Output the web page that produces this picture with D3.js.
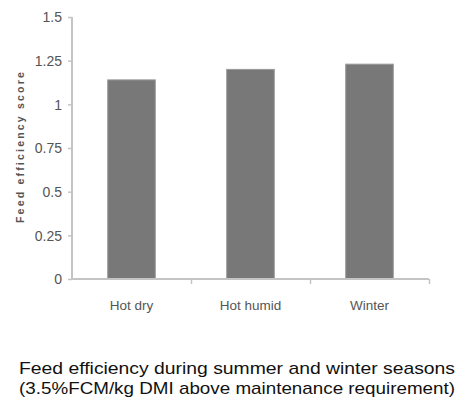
<!DOCTYPE html>
<html><head><meta charset="utf-8">
<script src="https://cdn.jsdelivr.net/npm/d3@7"></script>
<style>body{margin:0;background:#fff}</style>
</head><body>
<svg id="c" width="466" height="403"></svg>
<script>
const categories = ["Hot dry", "Hot humid", "Winter"];
const values = [1.14, 1.2, 1.23];
const yTicks = [0, 0.25, 0.5, 0.75, 1, 1.25, 1.5];
const yTickLabels = ["0", "0.25", "0.5", "0.75", "1", "1.25", "1.5"];
const yLabel = "Feed efficiency score";
const titleLines = ["Feed efficiency during summer and winter seasons", "(3.5%FCM/kg DMI above maintenance requirement)"];

const svg = d3.select("#c");
const x0 = 72, x1 = 429, yTop = 17, yBot = 279;
const x = d3.scaleBand().domain(categories).range([x0, x1]).paddingInner(0.6).paddingOuter(0.3);
const y = d3.scaleLinear().domain([0, 1.5]).range([yBot, yTop]);
const axisCol = "#c4c4c4";
const font = "'Liberation Sans', Arial, sans-serif";

// bars
svg.selectAll("rect.bar").data(values).enter().append("rect")
  .attr("x", (d,i) => x(categories[i]))
  .attr("width", x.bandwidth())
  .attr("y", d => y(d))
  .attr("height", d => yBot - y(d))
  .attr("fill", "#787878")
  .attr("stroke", "#9a9a9a")
  .attr("stroke-width", 1);

// y axis
const ya = svg.append("g").attr("transform", `translate(${x0},0)`)
  .call(d3.axisLeft(y).tickValues(yTicks).tickFormat((d,i)=>yTickLabels[i]).tickSize(4).tickPadding(6));
ya.select(".domain").attr("stroke", axisCol).attr("stroke-width", 2).attr("d", `M0,${yTop}V${yBot}`);
ya.selectAll(".tick line").attr("stroke", axisCol).attr("stroke-width", 1.5);
ya.selectAll(".tick text").attr("fill", "#555").style("font-family", font).style("font-size", "14px").attr("dy", "0.35em");

// x axis
const xb = d3.scaleLinear().domain([0, 3]).range([x0, x1]);
const xa = svg.append("g").attr("transform", `translate(0,${yBot})`)
  .call(d3.axisBottom(xb).tickValues([1,2,3]).tickFormat("").tickSize(5));
xa.select(".domain").attr("stroke", axisCol).attr("stroke-width", 2).attr("d", `M${x0},0H${x1}`);
xa.selectAll(".tick line").attr("stroke", axisCol).attr("stroke-width", 1.5);

svg.selectAll("text.xl").data(categories).enter().append("text")
  .attr("x", d => x(d) + x.bandwidth()/2)
  .attr("y", 310)
  .attr("text-anchor", "middle")
  .attr("fill", "#555")
  .style("font-family", font)
  .style("font-size", "13.5px")
  .text(d => d);

// y label
svg.append("text")
  .attr("transform", `translate(23.5,${(63+230)/2}) rotate(-90)`)
  .attr("text-anchor", "middle")
  .attr("fill", "#555")
  .style("font-family", font)
  .style("font-size", "10.5px")
  .style("font-weight", "bold")
  .style("letter-spacing", "2.2px")
  .text(yLabel);

// title
svg.selectAll("text.tl").data(titleLines).enter().append("text")
  .attr("x", 237)
  .attr("y", (d,i) => 374 + i*19.5)
  .attr("text-anchor", "middle")
  .attr("fill", "#111")
  .attr("textLength", 436)
  .attr("lengthAdjust", "spacingAndGlyphs")
  .style("font-family", font)
  .style("font-size", "17px")
  .text(d => d);
</script>
</body></html>
